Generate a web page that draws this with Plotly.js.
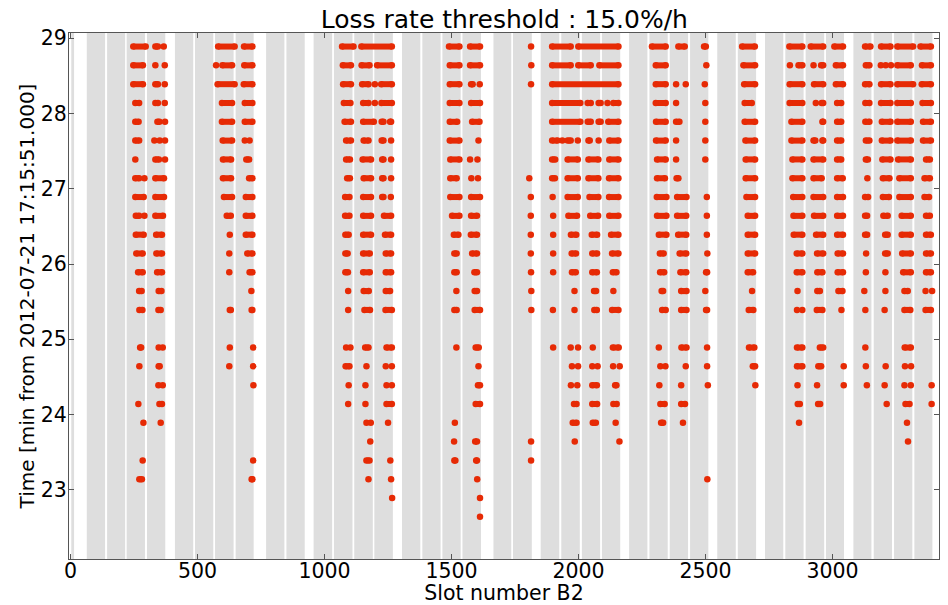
<!DOCTYPE html>
<html><head><meta charset="utf-8">
<script src="https://cdn.plot.ly/plotly-3.0.1.min.js"></script>
<style>html,body{margin:0;padding:0;background:#fff}#chart{width:948px;height:605px}</style>
</head><body><div id="chart"></div>
<script>
// Time levels (min) of the loss samples, one per row of dots
const levels = [28.89, 28.64, 28.39, 28.14, 27.89, 27.64, 27.39, 27.14, 26.89, 26.64, 26.39, 26.14, 25.89,
                25.64, 25.39, 25.14, 24.89, 24.64, 24.39, 24.14, 23.89, 23.64, 23.39, 23.14, 22.89, 22.64];

// Slots above threshold for each time level: [first, last] runs of slots, or [single slot]
const row00 = [[247,296],[334,344],[367],[581,646],[683,716],[1069,1114],[1145,1265],[1490,1531],[1573,1612],[1813],[1896,1969],[1999,2157],[2289,2343],[2393,2418],[2494,2501],[2644,2694],[2830,2881],[2914,2963],[3007,3041],[3128,3149],[3191,3228],[3255,3317],[3346,3387]];
const row01 = [[247,285],[334],[371],[573],[598,636],[684,716],[1072,1104],[1146,1177],[1207,1265],[1493,1531],[1573,1612],[1814],[1896,1969],[1999,2048],[2082,2157],[2304,2343],[2503],[2649,2695],[2832],[2866,2881],[2925],[2955,2963],[3013,3041],[3131,3145],[3190],[3209],[3230],[3255,3308],[3352,3387]];
const row02 = [[247,285],[334,344],[371],[579,646],[682,716],[1073,1104],[1148,1173],[1198],[1223,1265],[1493,1531],[1577,1583],[1611],[1813],[1896,2157],[2304,2343],[2384],[2422],[2497],[2652,2695],[2831,2881],[2927,2963],[3013,3041],[3128,3145],[3191,3228],[3255,3317],[3351,3387]];
const row03 = [[255,270],[334,344],[371],[596,636],[686,716],[1076,1102],[1152,1173],[1198],[1224,1265],[1493,1531],[1577,1612],[1896,2007],[2036,2048],[2079,2087],[2114],[2137,2157],[2304,2343],[2384],[2499],[2654,2682],[2831,2881],[2934],[2957,2963],[3018,3034],[3129,3145],[3191,3228],[3255,3308],[3354,3387]];
const row04 = [[255,268],[342,350],[372],[596,636],[686,716],[1079,1104],[1152,1194],[1225,1232],[1258,1262],[1493,1522],[1581,1610],[1896,2007],[2036,2048],[2079,2087],[2117,2157],[2305,2343],[2384,2397],[2499],[2654,2695],[2838,2881],[2960,2963],[3018,3034],[3129,3145],[3194,3228],[3255,3308],[3356,3387]];
const row05 = [[255,270],[330],[351],[372],[599,636],[686],[705],[1085,1104],[1154,1173],[1225,1232],[1262],[1493,1531],[1606],[1896,1917],[1936],[1957,1969],[1997],[2039,2044],[2079],[2121,2157],[2305,2343],[2384],[2499],[2657,2695],[2838,2881],[2925,2932],[2960,2963],[3018,3034],[3131,3145],[3194,3228],[3255,3308],[3356,3387]];
const row06 = [[255],[334,348],[372],[600,632],[692,703],[1085,1100],[1150,1183],[1227,1232],[1262],[1495,1531],[1573],[1602],[1896,1908],[1957,1997],[2039,2078],[2121,2157],[2309,2343],[2384],[2499],[2658,2695],[2842,2881],[2925,2963],[3018,3034],[3131,3139],[3196,3228],[3258,3308],[3368,3383]];
const row07 = [[255,270],[291],[334,368],[600,632],[703,716],[1089,1100],[1154,1183],[1227,1232],[1262],[1495,1520],[1578],[1604],[1806],[1896,1907],[1957,1997],[2039,2078],[2120,2157],[2309,2340],[2386,2393],[2658,2695],[2842,2881],[2925,2957],[3018,3040],[3137],[3198,3224],[3263,3308],[3362,3383]];
const row08 = [[255,288],[334,368],[604,636],[690,716],[1081,1098],[1152,1183],[1227,1232],[1261],[1495,1531],[1577,1612],[1812],[1898],[1957,1997],[2043,2078],[2120,2157],[2308,2346],[2388,2425],[2505],[2661,2695],[2845,2881],[2925,2963],[3018,3041],[3128,3140],[3198,3222],[3263,3308],[3362,3380]];
const row09 = [[257,270],[291],[334,364],[615,631],[690,716],[1081,1098],[1152,1183],[1234,1262],[1502,1531],[1577,1600],[1812],[1900],[1960,1994],[2046,2077],[2121,2157],[2309,2346],[2388,2424],[2505],[2666,2695],[2846,2881],[2927,2963],[3018,3041],[3128,3136],[3200,3217],[3272,3308],[3368,3383]];
const row10 = [[257,288],[337,360],[627],[690,716],[1082,1095],[1152,1183],[1238,1262],[1509,1527],[1576,1600],[1812],[1900],[1970,1991],[2052,2073],[2128,2157],[2316,2346],[2392,2424],[2505],[2666,2695],[2847,2881],[2935,2963],[3018,3041],[3128,3136],[3207,3217],[3272,3308],[3368,3387]];
const row11 = [[259,284],[338,360],[625],[696,716],[1082,1091],[1152,1178],[1241,1262],[1511,1520],[1581,1600],[1812],[1900],[1973,1990],[2054,2073],[2132,2157],[2320,2335],[2398,2424],[2507],[2666,2695],[2859,2881],[2939,2963],[3020,3041],[3132],[3207,3217],[3274,3308],[3368,3387]];
const row12 = [[266,284],[341,360],[625],[705,716],[1082,1092],[1152,1178],[1241,1262],[1511,1520],[1590,1600],[1813],[1900],[1974,1989],[2054,2072],[2135,2149],[2321,2337],[2401,2424],[2502,2506],[2666,2687],[2859,2881],[2940,2960],[3020,3041],[3131],[3208],[3278,3308],[3368,3387]];
const row13 = [[270,280],[347,358],[712],[1093],[1154,1174],[1241,1258],[1519],[1591,1600],[1814],[1984],[2061,2069],[2137],[2327,2333],[2404,2425],[2499],[2683],[2862],[2940,2950],[3023,3039],[3125],[3208],[3283,3296],[3366],[3392]];
const row14 = [[271,283],[346,355],[627,631],[713,716],[1093],[1157,1179],[1240,1265],[1511,1520],[1591,1612],[1814],[1899],[1984],[2062,2072],[2132,2157],[2329,2343],[2404,2425],[2502,2506],[2670,2688],[2860],[2881],[2938,2960],[3035],[3129],[3205],[3283,3306],[3366,3387]];
const row15 = [];
const row16 = [[274,278],[347],[363],[627],[719],[1085],[1102],[1160,1173],[1244,1265],[1519],[1595,1607],[1900],[1969],[1998],[2056],[2135,2158],[2316],[2405,2425],[2506],[2671,2692],[2860,2881],[2950,2963],[3129],[3284,3308]];
const row17 = [[271],[347,351],[625],[719],[1083,1098],[1165],[1241],[1265],[1606],[1974],[1998],[2054],[2075],[2136],[2162],[2322],[2342],[2422],[2506],[2686,2695],[2860,2881],[2944,2955],[3044],[3131],[3209],[3285],[3309]];
const row18 = [[346],[363],[720],[1095],[1161],[1244],[1265],[1604,1612],[1970],[1995],[2054,2072],[2144,2149],[2318],[2404],[2509],[2696],[2862],[2939],[3044],[3135],[3205],[3283],[3308],[3390]];
const row19 = [[267],[350,360],[1093],[1161],[1244,1265],[1595,1612],[1982,1992],[2054,2073],[2137,2150],[2322,2339],[2404,2419],[2863,2871],[2943,2951],[3213],[3287,3303],[3390]];
const row20 = [[287],[355],[1165],[1182],[1250],[1513],[1977,1992],[2056,2068],[2146],[2325,2333],[2411],[2868],[3293]];
const row21 = [[1180],[1510],[1593,1600],[1813],[1985],[2161],[3297]];
const row22 = [[284],[719],[1165,1177],[1259],[1511,1515],[1597,1600],[1813]];
const row23 = [[271,281],[713,716],[1173],[1262],[1601],[2507]];
const row24 = [[1266],[1612]];
const row25 = [[1612]];

const rows = [row00,row01,row02,row03,row04,row05,row06,row07,row08,row09,row10,row11,row12,
              row13,row14,row15,row16,row17,row18,row19,row20,row21,row22,row23,row24,row25];

// Filled bunch-train ranges (grey bands), in slot numbers
const bandStart = [3,64,144,221,301,411,490,569,650,770,850,957,1037,1117,1196,1305,1385,1464,1543,1665,1742,1851,1932,2013,2092,2199,2279,2359,2439,2546,2627,2734,2814,2894,2974,3082,3162,3242,3322];
const bandEnd   = [14,136,215,293,373,483,562,642,721,842,922,1030,1110,1190,1269,1377,1457,1536,1616,1735,1816,1924,2005,2085,2164,2271,2351,2431,2511,2619,2699,2806,2886,2967,3045,3153,3234,3314,3393];

const xTickVals = [0,500,1000,1500,2000,2500,3000];
const yTickVals = [23,24,25,26,27,28,29];

const xs = [], ys = [];
rows.forEach((segs, k) => {
  segs.forEach(s => {
    xs.push(s[0]); ys.push(levels[k]);
    if (s.length > 1) { xs.push(s[1]); ys.push(levels[k]); }
    xs.push(null); ys.push(null);
  });
});

const red = '#e62a05';
const trace = {
  type: 'scatter', mode: 'lines+markers', x: xs, y: ys,
  line: {color: red, width: 6}, marker: {color: red, size: 6.5},
  connectgaps: false, hoverinfo: 'skip', showlegend: false
};

const shapes = bandStart.map((s, i) => ({
  type: 'rect', xref: 'x', yref: 'paper', x0: s, x1: bandEnd[i], y0: 0, y1: 1,
  fillcolor: '#dedede', line: {width: 0}, layer: 'below'
}));

const font = {family: 'DejaVu Sans', color: '#000'};
const axisCommon = {
  showgrid: false, zeroline: false, showline: true, linecolor: '#555', linewidth: 1,
  mirror: 'ticks', ticks: 'inside', ticklen: 5, tickcolor: '#555', tickwidth: 1,
  tickfont: Object.assign({size: 20.5}, font)
};

const layout = {
  width: 948, height: 605,
  margin: {l: 69, r: 9, t: 33, b: 46},
  paper_bgcolor: '#fff', plot_bgcolor: '#fff',
  title: {text: 'Loss rate threshold : 15.0%/h', font: Object.assign({size: 25}, font),
          x: 0.532, xanchor: 'center', y: 0.983, yanchor: 'top', yref: 'container'},
  xaxis: Object.assign({}, axisCommon, {
    range: [-6, 3419], tickvals: xTickVals, ticktext: xTickVals.map(String),
    ticklabelstandoff: -7,
    title: {text: 'Slot number B2', font: Object.assign({size: 20.5}, font), standoff: 1}
  }),
  yaxis: Object.assign({}, axisCommon, {
    range: [22.08, 29.07], tickvals: yTickVals, ticktext: yTickVals.map(String),
    ticklabelstandoff: -3,
    title: {text: 'Time [min from 2012-07-21 17:15:51.000]', font: Object.assign({size: 20}, font), standoff: 0}
  }),
  shapes: shapes
};

Plotly.newPlot('chart', [trace], layout, {staticPlot: true, displayModeBar: false});
</script>
</body></html>
